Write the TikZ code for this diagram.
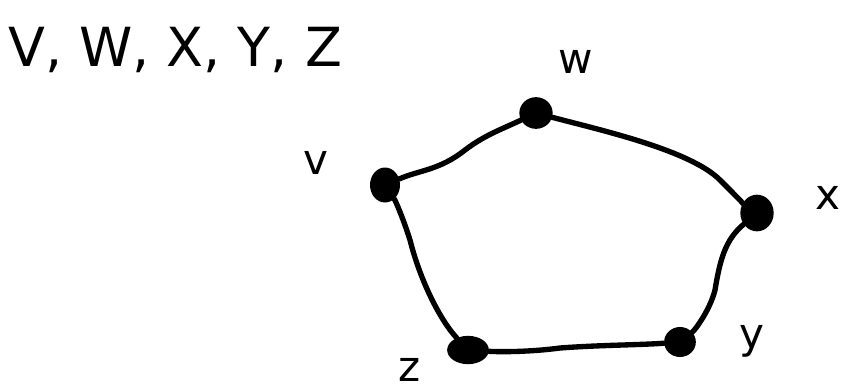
\documentclass[tikz,border=0pt]{standalone}
\usepackage{fontspec}
\setmainfont{DejaVu Sans}
\usetikzlibrary{shapes.geometric}
\begin{document}
\begin{tikzpicture}[x=0.03cm,y=-0.03cm,
  vtx/.style={ellipse,fill=black,inner sep=0pt,minimum width=0.95cm,minimum height=0.85cm},
  edge/.style={line width=0.16cm,line cap=round,line join=round},
  lbl/.style={font=\fontsize{36}{36}\selectfont}]
\useasboundingbox (0,0) rectangle (850,390);
\node[vtx,minimum width=0.9cm,minimum height=1.05cm] (v) at (385,185) {};
\node[vtx,minimum width=1.0cm,minimum height=0.95cm] (w) at (536,113) {};
\node[vtx,minimum width=1.0cm,minimum height=1.1cm] (x) at (757,213) {};
\node[vtx,minimum width=0.95cm,minimum height=0.9cm] (y) at (680,342) {};
\node[vtx,minimum width=1.25cm,minimum height=0.85cm] (z) at (468,350) {};
\draw[edge] (v) .. controls (420,170) and (440,170) .. (465,150) .. controls (485,135) and (500,130) .. (w);
\draw[edge] (w) .. controls (600,130) and (690,150) .. (720,180) .. controls (735,195) and (745,205) .. (x);
\draw[edge] (x) .. controls (725,240) and (720,260) .. (715,290) .. controls (710,310) and (695,330) .. (y);
\draw[edge] (y) .. controls (640,345) and (600,345) .. (560,348) .. controls (530,352) and (500,352) .. (z);
\draw[edge] (z) .. controls (440,320) and (420,280) .. (410,240) .. controls (402,215) and (395,200) .. (v);
\node[anchor=west,font=\fontsize{46}{46}\selectfont] (title) at (4,50) {V, W, X, Y, Z};
\node[lbl] (lv) at (316,163) {v};
\node[lbl] (lw) at (576,62) {w};
\node[lbl] (lx) at (828,198) {x};
\node[lbl] (ly) at (752,341) {y};
\node[lbl] (lz) at (410,370) {z};
\end{tikzpicture}
\end{document}
